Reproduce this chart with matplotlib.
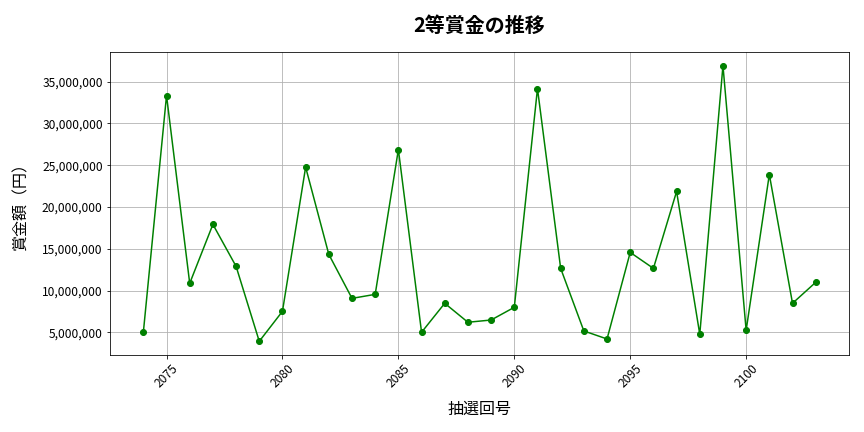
import matplotlib
matplotlib.use("Agg")
import matplotlib.pyplot as plt
from matplotlib.ticker import FuncFormatter

plt.rcParams['font.family'] = ['Noto Sans CJK JP', 'DejaVu Sans']

# 抽選回号 and 2等賞金 (円)
draws = list(range(2074, 2104))
prize = [5000000, 33330000, 10860000, 17910000, 12890000, 3920000, 7510000,
         24760000, 14320000, 9060000, 9540000, 26870000, 5000000, 8470000,
         6200000, 6470000, 7990000, 34160000, 12650000, 5160000, 4200000,
         14560000, 12650000, 21850000, 4760000, 36910000, 5240000, 23880000,
         8470000, 10980000]

fig, ax = plt.subplots(figsize=(12, 6), dpi=72)
ax.plot(draws, prize, marker='o', color='green', markersize=6, linewidth=1.5)

ax.set_title('2等賞金の推移', fontsize=20, fontweight='bold', pad=20)
ax.set_xlabel('抽選回号', fontsize=16, labelpad=10)
ax.set_ylabel('賞金額（円）', fontsize=16, labelpad=12)
ax.yaxis.set_major_formatter(FuncFormatter(lambda v, p: f'{int(v):,}'))
ax.tick_params(axis='both', labelsize=12)
plt.setp(ax.get_xticklabels(), rotation=45)
ax.grid(True)

fig.subplots_adjust(left=0.127, right=0.983, top=0.88, bottom=0.178)
fig.savefig('out.png')
